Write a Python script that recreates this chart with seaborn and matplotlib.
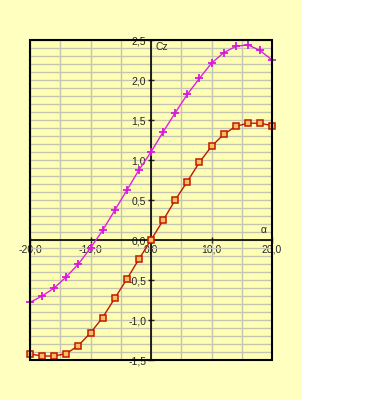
import numpy as np
import pandas as pd
import matplotlib
matplotlib.use("Agg")
import matplotlib.pyplot as plt
from matplotlib.patches import Rectangle
from matplotlib.ticker import MultipleLocator, FuncFormatter
import seaborn as sns

alpha = [-20, -18, -16, -14, -12, -10, -8, -6, -4, -2, 0, 2, 4, 6, 8, 10, 12, 14, 16, 18, 20]
cz_upper = [-0.78, -0.70, -0.60, -0.46, -0.30, -0.10, 0.12, 0.37, 0.62, 0.875, 1.10,
            1.35, 1.59, 1.82, 2.02, 2.21, 2.34, 2.42, 2.44, 2.37, 2.25]
cz_lower = [-1.425, -1.45, -1.45, -1.42, -1.32, -1.16, -0.97, -0.73, -0.49, -0.24, 0.0,
            0.245, 0.50, 0.73, 0.97, 1.17, 1.32, 1.42, 1.46, 1.46, 1.43]
x_label = "α"
y_label = "Cz"

sns.set_style("white")
plt.rcParams['font.family'] = ['Liberation Sans', 'DejaVu Sans']

fig = plt.figure(figsize=(3.9, 4.0), dpi=100, facecolor='white')
fig.patches.append(Rectangle((0, 0), 302 / 390, 1, transform=fig.transFigure,
                             facecolor='#FFFFC0', edgecolor='none', zorder=-10))
ax = fig.add_axes([30 / 390, 40 / 400, 242 / 390, 320 / 400])
ax.set_facecolor('#FFFFB4')

df = pd.DataFrame({"alpha": alpha, "upper": cz_upper, "lower": cz_lower})
sns.lineplot(data=df, x="alpha", y="upper", ax=ax, color='#E020E0', lw=1,
             marker='+', markersize=5.5, markeredgewidth=1.3, markeredgecolor='#D818D8',
             zorder=5, clip_on=False)
sns.lineplot(data=df, x="alpha", y="lower", ax=ax, color='#C01800', lw=1,
             marker='s', markersize=4.3, markeredgewidth=1.1, markeredgecolor='#C01800',
             markerfacecolor='#F8C060', zorder=5, clip_on=False)

ax.set_xlim(-20, 20)
ax.set_ylim(-1.5, 2.5)
ax.set_xlabel("")
ax.set_ylabel("")

ax.xaxis.set_major_locator(MultipleLocator(10))
ax.xaxis.set_minor_locator(MultipleLocator(5))
ax.yaxis.set_major_locator(MultipleLocator(0.5))
ax.yaxis.set_minor_locator(MultipleLocator(0.1))
ax.grid(True, which='both', color='#C4C4B4', lw=1, zorder=0)
ax.set_axisbelow(True)

fmt = FuncFormatter(lambda v, p: f"{v:.1f}".replace('.', ','))
ax.xaxis.set_major_formatter(fmt)
ax.yaxis.set_major_formatter(fmt)

ax.spines['left'].set_position(('data', 0))
ax.spines['bottom'].set_position(('data', 0))
for s in ['left', 'bottom', 'top', 'right']:
    ax.spines[s].set_color('black')
    ax.spines[s].set_linewidth(1.2)
ax.add_patch(Rectangle((0, 0), 1, 1, transform=ax.transAxes, fill=False,
                       edgecolor='black', lw=1.5, zorder=6, clip_on=False))

ax.tick_params(axis='y', which='major', direction='inout', length=5, width=1,
               labelsize=7.5, pad=1, left=True)
ax.tick_params(axis='x', which='major', direction='inout', length=4, width=1,
               labelsize=7.5, pad=1, bottom=True)
ax.tick_params(which='minor', length=0)

ax.text(0.8, 2.47, y_label, fontsize=7.5, ha='left', va='top')
ax.text(18.6, 0.06, x_label, fontsize=7.5, ha='center', va='bottom')

fig.savefig("out.png", dpi=100, facecolor=fig.get_facecolor())
